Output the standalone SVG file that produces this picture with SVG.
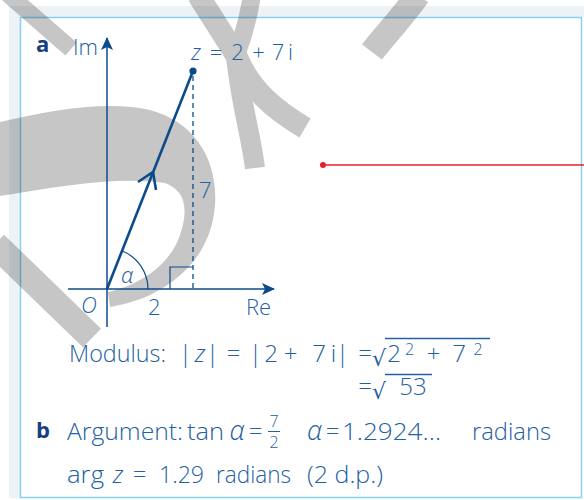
<svg xmlns="http://www.w3.org/2000/svg" width="584" height="500" viewBox="0 0 584 500">
<defs>
<style>
.t{font-family:"Open Sans","Liberation Sans",sans-serif;fill:#2360a4;font-size:22px;font-weight:300}
.w{font-size:24px}
.c{text-anchor:middle}
.it{font-style:italic}
.bold{font-weight:bold;fill:#143f80}
.ax{stroke:#0b4a8b;stroke-width:1.5;fill:none}
.ln{stroke:#0b4a8b;stroke-width:1.2;fill:none}
.gr{font-style:italic;font-size:27px}
.rt{font-family:"DejaVu Sans",sans-serif;font-style:normal;font-weight:normal}
.sm{font-size:16px}
</style>
<marker id="ah" viewBox="0 0 13 12" refX="12" refY="6" markerWidth="13" markerHeight="12" markerUnits="userSpaceOnUse" orient="auto">
<path d="M0,0 L13,6 L0,12 L3,6 Z" fill="#0b4a8b"/>
</marker>
</defs>
<rect width="584" height="500" fill="#fff"/>
<g id="frame">
<rect x="9" y="6" width="575" height="11" fill="#edf2f6"/>
<rect x="9" y="6" width="11" height="492" fill="#edf2f6"/>
<rect x="20.5" y="17.5" width="561" height="480" fill="none" stroke="#86d3f0" stroke-width="1.5"/>
</g>
<g id="watermark" opacity="0.22" stroke="#000" fill="none">
<path d="M8,-6 L71,49" stroke-width="17"/>
<path d="M0,122 C50,110 110,100 150,110 C195,122 218,160 215,205 C212,245 190,275 150,295 C135,302 120,305 110,307 L108,292 C140,285 170,265 180,235 C190,205 183,190 165,183 C120,176 60,186 0,196 Z" fill="#000" stroke="none"/>
<path d="M-5,244 L92,338" stroke-width="26"/>
<path d="M198,-5 L238,58" stroke-width="22"/>
<path d="M252,-5 C248,20 242,40 236,55" stroke-width="18"/>
<path d="M236,55 C240,100 250,130 255,168" stroke-width="20"/>
<path d="M236,55 C250,90 275,110 305,128" stroke-width="22"/>
<path d="M418,-5 C400,20 385,35 372,52" stroke-width="25"/>
</g>
<g id="axes">
<line class="ax" x1="107" y1="327" x2="107" y2="38" marker-end="url(#ah)"/>
<line class="ax" x1="68" y1="289" x2="274" y2="289" marker-end="url(#ah)"/>
</g>
<g id="connectors">
<line x1="107" y1="289" x2="193" y2="71" stroke="#0b4a8b" stroke-width="2.6"/>
<polyline points="138,182 153,172 156,190" fill="none" stroke="#0b4a8b" stroke-width="2.6" stroke-linejoin="miter"/>
<line x1="193" y1="76" x2="193" y2="289" stroke="#0b4a8b" stroke-width="1.3" stroke-dasharray="5,4"/>
<path class="ln" d="M170,289 V267 H193"/>
<path class="ln" d="M148,289 A41,41 0 0 0 122.2,251"/>
<line x1="323" y1="165" x2="584" y2="165" stroke="#e8202a" stroke-width="1.3"/>
</g>
<g id="point-z">
<circle cx="193" cy="71" r="3.6" fill="#0b4a8b"/>
<text class="t c" y="60" font-size="20"><tspan class="it" x="196">z</tspan><tspan x="216">=</tspan><tspan x="237.5">2</tspan><tspan x="258.5">+</tspan><tspan x="278">7</tspan><tspan x="290.5">i</tspan></text>
</g>
<g id="red-point"><circle cx="323" cy="165" r="3" fill="#e8202a"/></g>
<g id="labels">
<text class="t bold" x="36" y="52" font-size="20">a</text>
<text class="t" x="73" y="55">Im</text>
<text class="t" x="199" y="198" font-size="24">7</text>
<text class="t it" x="81" y="313">O</text>
<text class="t" x="148" y="315">2</text>
<text class="t" x="246" y="315">Re</text>
<text class="t it" x="121" y="283" font-size="23">α</text>
</g>
<g id="working">
<text class="t w" x="69" y="362" textLength="97" lengthAdjust="spacingAndGlyphs">Modulus:</text>
<text class="t w c" y="362"><tspan x="185.5">|</tspan><tspan class="it" x="200">z</tspan><tspan x="212.5">|</tspan><tspan x="233.5">=</tspan><tspan x="255.5">|</tspan><tspan x="271">2</tspan><tspan x="290.5">+</tspan><tspan x="319">7</tspan><tspan x="333.5">i</tspan><tspan x="342.5">|</tspan><tspan x="365">=</tspan></text>
<text class="rt" x="372" y="366" font-size="22" fill="#2360a4">√</text>
<text class="t w c" y="362"><tspan x="394">2</tspan><tspan class="sm" x="409.5" y="355">2</tspan><tspan x="433.5" y="362">+</tspan><tspan x="459">7</tspan><tspan class="sm" x="478" y="355">2</tspan></text>
<line x1="385" y1="338.5" x2="490" y2="338.5" stroke="#2360a4" stroke-width="1.3"/>
<text class="t w c" x="365" y="395">=</text>
<text class="rt" x="372" y="399" font-size="22" fill="#2360a4">√</text>
<text class="t w c" x="413" y="395">53</text>
<line x1="385" y1="374.5" x2="432" y2="374.5" stroke="#2360a4" stroke-width="1.3"/>
<text class="t bold" x="36" y="438" font-size="21">b</text>
<text class="t w" x="67" y="440" textLength="116" lengthAdjust="spacingAndGlyphs">Argument:</text>
<text class="t w" x="187" y="440" textLength="37" lengthAdjust="spacingAndGlyphs">tan</text>
<text class="t w c" y="440"><tspan class="gr" x="237">α</tspan><tspan x="255.5">=</tspan><tspan class="sm" x="274" y="427">7</tspan><tspan class="sm" x="274" y="448">2</tspan><tspan class="gr" x="314.5" y="440">α</tspan><tspan x="332.5">=</tspan></text>
<line x1="268" y1="431.5" x2="280" y2="431.5" stroke="#2360a4" stroke-width="1"/>
<text class="t w" x="342" y="440" textLength="99" lengthAdjust="spacingAndGlyphs">1.2924…</text>
<text class="t w" x="472" y="440" textLength="79" lengthAdjust="spacingAndGlyphs">radians</text>
<text class="t w" x="67" y="483" textLength="37" lengthAdjust="spacingAndGlyphs">arg</text>
<text class="t w c" y="483"><tspan class="it" x="118">z</tspan><tspan x="139.5">=</tspan></text>
<text class="t w" x="159" y="483" textLength="45" lengthAdjust="spacingAndGlyphs">1.29</text>
<text class="t w" x="216" y="483" textLength="75" lengthAdjust="spacingAndGlyphs">radians</text>
<text class="t w" x="307" y="483" textLength="76" lengthAdjust="spacingAndGlyphs">(2 d.p.)</text>
</g>
</svg>
